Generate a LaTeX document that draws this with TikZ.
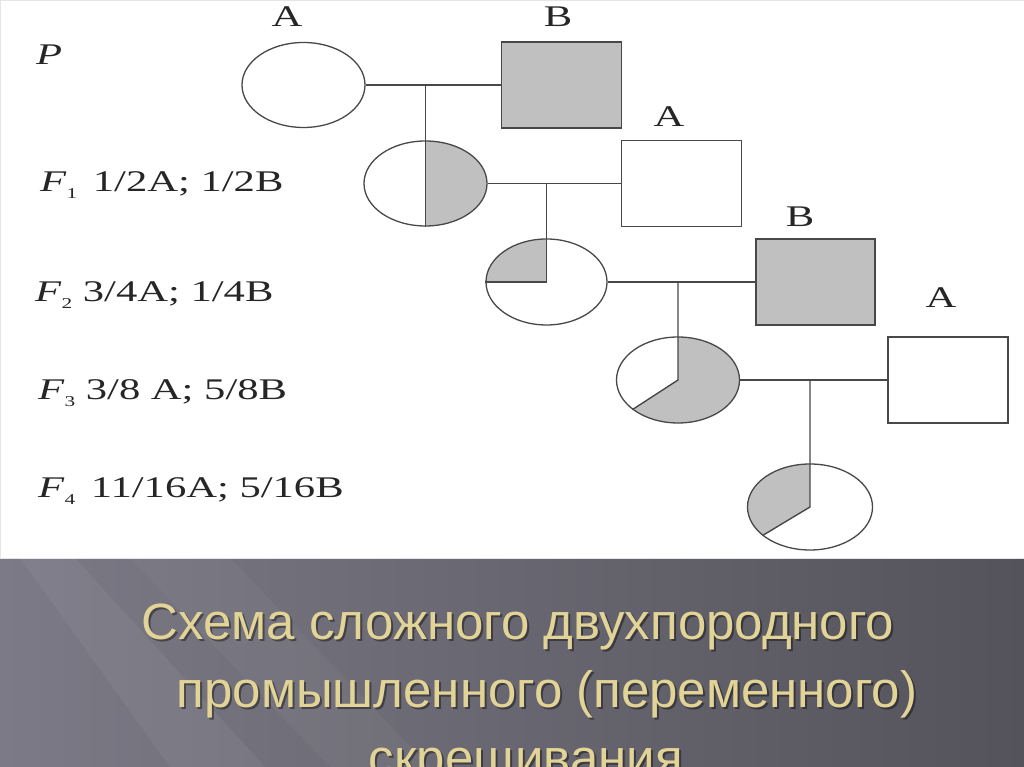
\documentclass[tikz,border=0pt]{standalone}
\usepackage{fontspec}
\setmainfont{Liberation Serif}
\newfontfamily\labfont[FakeStretch=1.42]{Liberation Serif}
\newfontfamily\capfont{Liberation Sans}
\usetikzlibrary{shapes.geometric,positioning}

\definecolor{fillgrey}{RGB}{192,192,192}
\definecolor{linegrey}{RGB}{72,72,72}
\definecolor{capgold}{RGB}{226,212,150}
\definecolor{bandlight}{RGB}{124,122,134}
\definecolor{banddark}{RGB}{84,82,90}

\newcommand{\gen}[1]{\textit{F}\raisebox{-7pt}{\fontsize{15}{15}\selectfont #1}}

\begin{document}
\begin{tikzpicture}[x=1pt, y=1pt,
  hen/.style={ellipse, draw=linegrey, line width=1.3pt, fill=white,
              inner sep=0pt, minimum width=123pt, minimum height=85pt},
  cock/.style={rectangle, draw=linegrey, line width=1.3pt, fill=white,
               inner sep=0pt, minimum width=120pt, minimum height=86pt},
  link/.style={draw=linegrey, line width=1.4pt},
  breed/.style={font=\labfont\fontsize{30}{30}\selectfont, text=black!85, inner sep=0pt},
  genrow/.style={font=\labfont\fontsize{30}{30}\selectfont, text=black!85,
                 anchor=base west, inner sep=0pt},
  capline/.style={font=\capfont\fontsize{51}{51}\selectfont, text=capgold,
                  anchor=base, inner sep=0pt},
  capshadow/.style={capline, text=black, opacity=0.4},
]
\useasboundingbox (0,0) rectangle (1024,767);
\clip (0,0) rectangle (1024,767);

% Slide background
\shade[left color=bandlight, right color=banddark] (0,0) rectangle (1024,209);
\fill[white, opacity=0.05] (20,209) -- (75,209) -- (265,0) -- (170,0) -- cycle;
\fill[white, opacity=0.035] (130,209) -- (230,209) -- (430,0) -- (330,0) -- cycle;
\fill[white, draw=black!10] (0,209) rectangle (1024,767);

% Parents
\node[hen] (pA) at (303.5, 682) {};
\node[cock, fill=fillgrey] (pB) at (561.5, 682) {};

% Offspring and backcross sires
\node[hen, path picture={\fill[fillgrey] (path picture bounding box.center)
  -- ++(0,60) -- ++(80,0) -- ++(0,-120) -- ++(-80,0) -- cycle;}]
  (f1) at (425.5, 583.5) {};
\node[cock] (f1B) at (681.5, 583.5) {};

\node[hen, minimum width=121pt, minimum height=86pt,
  path picture={\fill[fillgrey] (path picture bounding box.center)
  -- ++(0,60) -- ++(-80,0) -- ++(0,-60) -- cycle;}]
  (f2) at (546.5, 485) {};
\node[cock, minimum width=119pt, fill=fillgrey] (f2B) at (815.5, 485) {};

\node[hen, minimum height=86pt,
  path picture={\fill[fillgrey] (path picture bounding box.center)
  -- ++(0,60) -- ++(80,0) -- ++(0,-120) -- ++(-170,0) -- cycle;}]
  (f3) at (678, 387) {};
\node[cock] (f3B) at (948, 387) {};

\node[hen, minimum width=125pt, minimum height=86pt,
  path picture={\fill[fillgrey] (path picture bounding box.center)
  -- ++(0,60) -- ++(-90,0) -- ++(0,-114) -- cycle;}]
  (f4) at (810, 260) {};

% Breed labels
\node[breed] (lA1) at (287, 750) {A};
\node[breed] (lB1) at (558, 750) {B};
\node[breed] (lA2) at (669, 650) {A};
\node[breed] (lB2) at (800, 550) {B};
\node[breed] (lA3) at (941, 469) {A};

% Generation rows
\node[genrow] (rP) at (36, 702) {\textit{P}};
\node[genrow] (r1) at (40, 575) {\gen{1}\, 1/2A; 1/2B};
\node[genrow] (r2) at (35, 465) {\gen{2} 3/4A; 1/4B};
\node[genrow] (r3) at (38, 367) {\gen{3} 3/8 A; 5/8B};
\node[genrow] (r4) at (38, 269) {\gen{4}\, 11/16A; 5/16B};

% Matings and descent
\draw[link] (pA) -- (pB);
\draw[link] (f1.north |- pA.east) -- (f1.south);
\draw[link] (f1) -- (f1B);
\draw[link] (f2.center |- f1.east) -- (f2.center) -- (f2.west);
\draw[link] (f2) -- (f2B);
\draw[link] (f3.center |- f2.east) -- (f3.center) -- (f3.213.7);
\draw[link] (f3) -- (f3B);
\draw[link] (f4.center |- f3.east) -- (f4.center) -- (f4.211.5);

% Caption
\node[capshadow] (s1) at (520, 125) {Схема сложного двухпородного};
\node[capshadow] (s2) at (549, 57) {промышленного (переменного)};
\node[capshadow] (s3) at (535, -11) {скрещивания.};
\node[capline] (c1) at (518, 127) {Схема сложного двухпородного};
\node[capline] (c2) at (547, 59) {промышленного (переменного)};
\node[capline] (c3) at (533, -9) {скрещивания.};

\end{tikzpicture}
\end{document}
